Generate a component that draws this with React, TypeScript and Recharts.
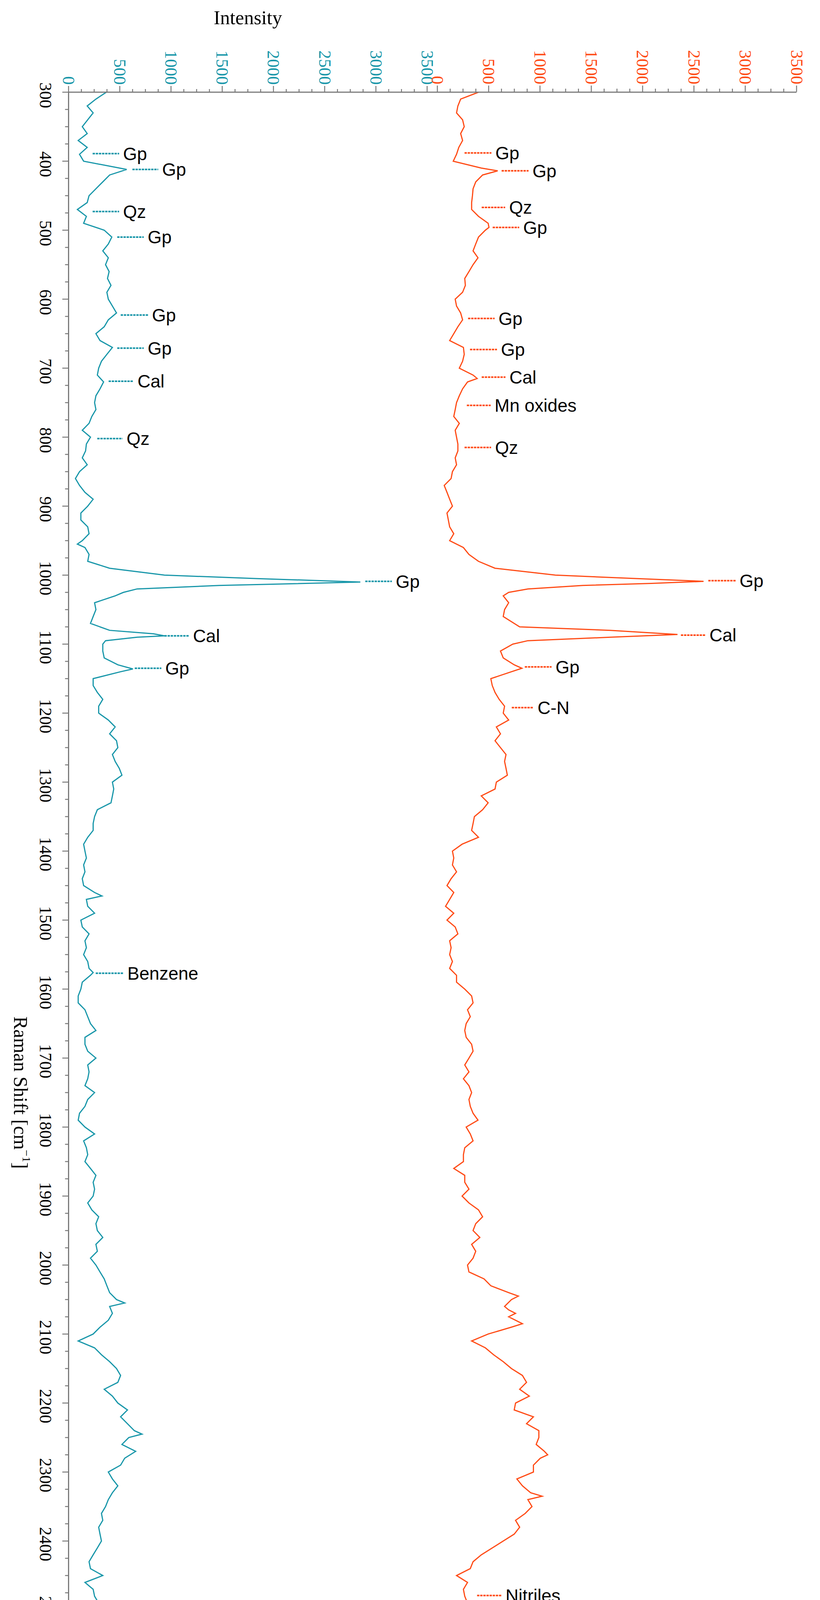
import { LineChart, Line, XAxis, YAxis, ReferenceLine, Legend } from "recharts";

// Raman spectra of IF16 (teal, left) and IF2 (orange, right), drawn rotated:
// Raman shift runs down the page, intensity runs across.

const TEAL = "#1796a9";
const ORANGE = "#ff4a14";
const AXIS = "#7a7a7a";
const SERIF = "'Liberation Serif', 'Times New Roman', serif";
const SANS = "'Liberation Sans', Arial, sans-serif";

const seriesNames = ["IF2", "IF16"];

const intensityTicks = [0, 500, 1000, 1500, 2000, 2500, 3000, 3500];
const shiftTicks = [
  300, 400, 500, 600, 700, 800, 900, 1000, 1100, 1200, 1300, 1400, 1500, 1600, 1700,
  1800, 1900, 2000, 2100, 2200, 2300, 2400, 2500, 2600, 2700, 2800, 2900, 3000, 3100, 3200,
];

// IF16 spectrum
const if16Shift = [
  300, 310, 320, 330, 340, 350, 360, 370, 380, 390,
  400, 412, 420, 430, 440, 450, 460, 470, 480, 490,
  500, 510, 520, 530, 540, 550, 560, 570, 580, 590,
  600, 610, 620, 630, 640, 650, 660, 670, 680, 690,
  700, 710, 720, 730, 740, 750, 760, 770, 780, 790,
  800, 810, 820, 830, 840, 850, 860, 870, 880, 890,
  900, 910, 920, 930, 940, 950, 955, 960, 970, 980,
  990, 1000, 1005, 1010, 1015, 1020, 1025, 1030, 1040, 1050,
  1060, 1070, 1080, 1085, 1088, 1090, 1095, 1100, 1110, 1120,
  1130, 1136, 1140, 1150, 1160, 1170, 1180, 1190, 1200, 1210,
  1220, 1230, 1240, 1250, 1260, 1270, 1280, 1290, 1300, 1310,
  1320, 1330, 1340, 1350, 1360, 1370, 1380, 1390, 1400, 1410,
  1420, 1430, 1440, 1450, 1460, 1465, 1470, 1480, 1490, 1500,
  1510, 1520, 1530, 1540, 1550, 1560, 1570, 1576, 1580, 1590,
  1600, 1610, 1620, 1630, 1640, 1650, 1660, 1670, 1680, 1690,
  1700, 1710, 1720, 1730, 1740, 1750, 1760, 1770, 1780, 1790,
  1800, 1810, 1820, 1830, 1840, 1850, 1860, 1870, 1880, 1890,
  1900, 1910, 1920, 1930, 1940, 1950, 1960, 1970, 1980, 1990,
  2000, 2010, 2020, 2030, 2040, 2050, 2055, 2060, 2070, 2080,
  2090, 2100, 2110, 2120, 2130, 2140, 2150, 2160, 2170, 2180,
  2190, 2200, 2210, 2220, 2230, 2240, 2245, 2250, 2260, 2270,
  2280, 2290, 2300, 2310, 2320, 2330, 2340, 2350, 2360, 2370,
  2380, 2390, 2400, 2410, 2420, 2430, 2440, 2450, 2460, 2470,
  2480, 2490, 2500, 2510, 2520, 2525, 2530, 2540, 2550, 2560,
  2570, 2575, 2580, 2590, 2600, 2610, 2620, 2630, 2640, 2645,
  2650, 2660, 2670, 2675, 2680, 2690, 2700, 2710, 2720, 2730,
  2735, 2740, 2750, 2760, 2770, 2775, 2780, 2790, 2800, 2810,
  2820, 2830, 2840, 2850, 2860, 2870, 2875, 2880, 2890, 2895,
  2900, 2910, 2920, 2925, 2930, 2935, 2940, 2950, 2960, 2970,
  2980, 2990, 3000, 3010, 3020, 3025, 3030, 3035, 3040, 3050,
  3060, 3070, 3075, 3080, 3090, 3100, 3110, 3115, 3120, 3130,
  3140, 3145, 3150, 3160, 3165, 3170, 3180, 3190, 3195, 3200,
];
const if16Intensity = [
  369, 267, 182, 240, 187, 134, 182, 94, 182, 107,
  147, 567, 401, 334, 267, 200, 182, 86, 174, 147,
  348, 422, 388, 334, 388, 361, 396, 380, 414, 374,
  388, 428, 468, 388, 348, 267, 307, 428, 374, 321,
  294, 281, 342, 307, 267, 254, 267, 227, 200, 134,
  214, 174, 166, 134, 182, 107, 67, 107, 160, 240,
  187, 120, 120, 187, 200, 134, 86, 160, 200, 187,
  401, 936, 1845, 2848, 1471, 669, 535, 455, 254, 267,
  240, 214, 401, 829, 936, 669, 361, 334, 334, 348,
  481, 628, 508, 240, 240, 281, 334, 294, 294, 388,
  455, 401, 468, 481, 428, 455, 495, 521, 428, 441,
  428, 414, 281, 254, 240, 240, 187, 147, 160, 174,
  147, 160, 134, 147, 254, 326, 174, 187, 254, 120,
  134, 200, 160, 174, 147, 187, 200, 240, 214, 134,
  120, 94, 94, 160, 187, 214, 267, 160, 160, 187,
  267, 187, 200, 187, 160, 254, 187, 160, 107, 94,
  160, 254, 147, 174, 187, 160, 214, 267, 240, 254,
  240, 187, 227, 294, 267, 281, 334, 267, 281, 214,
  267, 307, 348, 374, 401, 468, 548, 401, 428, 388,
  307, 240, 94, 254, 321, 401, 468, 508, 481, 348,
  428, 481, 575, 508, 575, 642, 717, 588, 521, 655,
  548, 508, 388, 428, 481, 428, 388, 361, 321, 334,
  294, 307, 321, 281, 240, 200, 214, 334, 160, 240,
  254, 294, 254, 254, 267, 361, 267, 187, 321, 414,
  227, 428, 187, 348, 267, 254, 214, 254, 348, 374,
  240, 214, 348, 487, 348, 254, 374, 254, 187, 267,
  361, 267, 147, 321, 254, 388, 321, 254, 174, 348,
  388, 294, 428, 401, 481, 348, 193, 487, 307, 214,
  334, 495, 562, 414, 401, 575, 455, 428, 361, 200,
  455, 227, 334, 294, 562, 615, 428, 281, 428, 374,
  642, 775, 904, 722, 348, 348, 455, 695, 508, 240,
  267, 455, 187, 321, 562, 508, 348, 53, 94, 107,
];

// IF2 spectrum
const if2Shift = [
  300, 310, 320, 330, 340, 350, 360, 370, 380, 390,
  400, 410, 414, 420, 430, 440, 450, 460, 470, 480,
  490, 496, 500, 510, 520, 530, 540, 550, 560, 570,
  580, 590, 600, 610, 620, 630, 640, 650, 660, 670,
  680, 690, 700, 710, 715, 720, 730, 740, 750, 760,
  770, 780, 790, 800, 810, 820, 830, 840, 850, 860,
  870, 880, 890, 900, 910, 920, 930, 940, 950, 960,
  970, 980, 990, 1000, 1005, 1009, 1012, 1015, 1020, 1025,
  1030, 1040, 1050, 1060, 1070, 1075, 1080, 1086, 1090, 1095,
  1100, 1110, 1120, 1130, 1135, 1140, 1150, 1160, 1170, 1180,
  1190, 1200, 1210, 1220, 1230, 1240, 1250, 1260, 1270, 1280,
  1290, 1300, 1310, 1320, 1330, 1340, 1350, 1360, 1370, 1380,
  1390, 1400, 1410, 1420, 1430, 1440, 1450, 1460, 1470, 1480,
  1490, 1500, 1510, 1520, 1530, 1540, 1550, 1560, 1570, 1580,
  1590, 1600, 1610, 1620, 1630, 1640, 1650, 1660, 1670, 1680,
  1690, 1700, 1710, 1720, 1730, 1740, 1750, 1760, 1770, 1780,
  1790, 1800, 1810, 1820, 1830, 1840, 1850, 1860, 1870, 1880,
  1890, 1900, 1910, 1920, 1930, 1940, 1950, 1960, 1970, 1980,
  1990, 2000, 2010, 2020, 2030, 2040, 2045, 2050, 2060, 2065,
  2070, 2075, 2080, 2085, 2090, 2100, 2110, 2120, 2130, 2140,
  2150, 2160, 2170, 2180, 2190, 2200, 2210, 2220, 2230, 2240,
  2250, 2260, 2270, 2275, 2280, 2290, 2300, 2310, 2320, 2330,
  2335, 2340, 2350, 2360, 2370, 2380, 2390, 2400, 2410, 2420,
  2430, 2440, 2450, 2460, 2470, 2480, 2490, 2500, 2510, 2520,
  2530, 2540, 2550, 2560, 2570, 2580, 2590, 2600, 2610, 2620,
  2630, 2640, 2650, 2660, 2670, 2675, 2680, 2690, 2700, 2705,
  2710, 2720, 2730, 2740, 2750, 2760, 2770, 2780, 2790, 2800,
  2810, 2820, 2830, 2840, 2850, 2860, 2870, 2880, 2890, 2900,
  2910, 2915, 2920, 2930, 2940, 2945, 2950, 2960, 2970, 2980,
  2990, 3000, 3005, 3010, 3020, 3030, 3040, 3050, 3060, 3070,
  3080, 3090, 3100, 3110, 3120, 3130, 3135, 3140, 3150, 3160,
  3165, 3170, 3175, 3180, 3185, 3190, 3195, 3200,
];
const if2Intensity = [
  401, 227, 200, 187, 246, 262, 227, 246, 209, 187,
  155, 428, 588, 441, 374, 348, 342, 334, 334, 401,
  495, 503, 468, 401, 374, 348, 396, 348, 308, 267,
  273, 246, 174, 187, 227, 246, 200, 160, 120, 254,
  262, 246, 214, 348, 388, 294, 246, 214, 187, 174,
  160, 214, 174, 187, 200, 200, 174, 187, 147, 134,
  67, 94, 120, 147, 94, 107, 120, 160, 120, 254,
  308, 401, 562, 1150, 1952, 2594, 2086, 1417, 882, 695,
  642, 695, 655, 642, 749, 802, 1685, 2340, 1685, 882,
  735, 615, 642, 749, 824, 722, 521, 535, 562, 602,
  655, 642, 695, 575, 615, 562, 615, 669, 655, 669,
  682, 575, 562, 428, 495, 441, 361, 348, 334, 401,
  241, 147, 160, 147, 187, 134, 94, 160, 120, 80,
  160, 94, 174, 200, 120, 134, 120, 147, 120, 187,
  187, 267, 334, 348, 294, 321, 281, 267, 281, 334,
  348, 308, 267, 308, 254, 308, 334, 308, 321, 348,
  396, 281, 321, 348, 267, 254, 254, 160, 267, 267,
  308, 241, 308, 401, 441, 374, 348, 414, 334, 374,
  348, 294, 308, 455, 521, 695, 789, 722, 655, 695,
  762, 695, 762, 829, 722, 495, 334, 468, 548, 642,
  722, 829, 869, 802, 896, 762, 749, 936, 869, 989,
  989, 963, 1043, 1075, 1003, 936, 936, 775, 829, 909,
  1021, 882, 922, 856, 762, 802, 749, 642, 535, 428,
  348, 321, 187, 294, 254, 267, 294, 348, 334, 455,
  348, 428, 348, 401, 227, 321, 267, 428, 468, 401,
  321, 388, 374, 414, 540, 647, 520, 428, 562, 655,
  535, 455, 348, 414, 321, 508, 495, 615, 428, 348,
  562, 615, 508, 428, 562, 468, 481, 495, 267, 468,
  669, 762, 508, 374, 535, 615, 481, 455, 348, 481,
  669, 642, 775, 455, 428, 481, 722, 615, 588, 669,
  615, 348, 508, 695, 508, 695, 850, 481, 562, 802,
  1163, 802, 1123, 882, 936, 856, 936, 642,
];

// band assignments: label, shift, leader line from/to (intensity units of the panel)
const if16NoteLabel = ["Gp", "Gp", "Qz", "Gp", "Gp", "Gp", "Cal", "Qz", "Gp", "Cal", "Gp", "Benzene", "Soot"];
const if16NoteShift = [389, 412, 473, 510, 623, 671, 719, 802, 1009, 1088, 1135, 1577, 2736];
const if16NoteFrom = [235, 623, 235, 475, 509, 475, 391, 280, 2896, 936, 646, 265, 429];
const if16NoteTo = [494, 875, 494, 734, 776, 734, 635, 528, 3156, 1176, 906, 536, 654];

const if2NoteLabel = ["Gp", "Gp", "Qz", "Gp", "Gp", "Gp", "Cal", "Mn oxides", "Qz", "Gp", "Cal", "Gp", "C-N", "Nitriles"];
const if2NoteShift = [388, 414, 467, 496, 628, 673, 713, 754, 815, 1008, 1087, 1133, 1192, 2479];
const if2NoteFrom = [265, 626, 432, 539, 299, 318, 432, 287, 265, 2640, 2373, 852, 725, 387];
const if2NoteTo = [527, 889, 661, 798, 558, 581, 664, 520, 524, 2906, 2613, 1113, 938, 626];

// page geometry
const W = 2099;
const H = 5446;
const PLOT_LEFT = 175.5;
const PLOT_RIGHT = 2039;
const PLOT_TOP = 236;
const PLOT_BOTTOM = 5358;
const IF16_END_X = 1093.3; // where 3500 of the IF16 scale sits
const IF2_ZERO_X = 1119.5; // where 0 of the IF2 scale sits

const if16Px = (IF16_END_X - PLOT_LEFT) / 3500;
const if2Px = (PLOT_RIGHT - IF2_ZERO_X) / 3500;
const if16Domain = [0, (PLOT_RIGHT - PLOT_LEFT) / if16Px];
const if2Domain = [-(IF2_ZERO_X - PLOT_LEFT) / if2Px, 3500];

const withMinor = (major: number[], parts: number) => {
  const out: number[] = [];
  major.forEach((v, i) => {
    out.push(v);
    if (i < major.length - 1) {
      const step = (major[i + 1] - v) / parts;
      for (let k = 1; k < parts; k++) out.push(v + step * k);
    }
  });
  return out;
};
const intensityAllTicks = withMinor(intensityTicks, 4);
const shiftAllTicks = withMinor(shiftTicks, 4);

const table = (() => {
  const a = new Map(if16Shift.map((s, i) => [s, if16Intensity[i]]));
  const b = new Map(if2Shift.map((s, i) => [s, if2Intensity[i]]));
  const all = Array.from(new Set([...if16Shift, ...if2Shift])).sort((p, q) => p - q);
  return all.map((s) => ({
    shift: s,
    IF16: a.has(s) ? a.get(s) : null,
    IF2: b.has(s) ? b.get(s) : null,
  }));
})();

function IntensityTick(props: any) {
  const { x, y, payload, color } = props;
  const major = intensityTicks.includes(payload.value);
  const ty = y - 19;
  return (
    <g>
      <line x1={x} x2={x} y1={y} y2={y - (major ? 16 : 8)} stroke={AXIS} strokeWidth={2.5} />
      {major && (
        <text
          x={x}
          y={ty}
          transform={`rotate(90 ${x} ${ty})`}
          textAnchor="end"
          dominantBaseline="central"
          fill={color}
          fontSize={44}
          fontFamily={SERIF}
        >
          {payload.value}
        </text>
      )}
    </g>
  );
}

function ShiftTick(props: any) {
  const { x, y, payload } = props;
  const major = shiftTicks.includes(payload.value);
  const tx = x - 59;
  const ty = y + 8;
  return (
    <g>
      <line x1={x - (major ? 16 : 9)} x2={x} y1={y} y2={y} stroke={AXIS} strokeWidth={2.5} />
      {major && (
        <text
          x={tx}
          y={ty}
          transform={`rotate(90 ${tx} ${ty})`}
          textAnchor="middle"
          dominantBaseline="central"
          fill="#000"
          fontSize={44}
          fontFamily={SERIF}
        >
          {payload.value}
        </text>
      )}
    </g>
  );
}

function IntensityTitle() {
  return (
    <text x={(PLOT_LEFT + IF16_END_X) / 2} y={62} textAnchor="middle" fill="#000" fontSize={50} fontFamily={SERIF}>
      Intensity
    </text>
  );
}

function ShiftTitle() {
  const x = 53;
  const y = (PLOT_TOP + PLOT_BOTTOM) / 2;
  return (
    <text
      x={x}
      y={y}
      transform={`rotate(90 ${x} ${y})`}
      textAnchor="middle"
      dominantBaseline="central"
      fill="#000"
      fontSize={50}
      fontFamily={SERIF}
    >
      Raman Shift [cm
      <tspan dy={-16} fontSize={30}>−1</tspan>
      <tspan dy={16}>]</tspan>
    </text>
  );
}

function LegendBox(props: any) {
  const items = [...(props.payload || [])].sort(
    (p: any, q: any) => seriesNames.indexOf(p.value) - seriesNames.indexOf(q.value)
  );
  return (
    <div
      style={{
        width: 164,
        height: 221,
        boxSizing: "border-box",
        border: "3px solid #000",
        boxShadow: "-5px 5px 0 #000",
        background: "#fff",
      }}
    >
      <svg width={158} height={215} style={{ display: "block" }}>
        {items.map((it: any, i: number) => {
          const cx = 117 - i * 69;
          return (
            <g key={it.value}>
              <line x1={cx} x2={cx} y1={18} y2={77} stroke={it.color} strokeWidth={3} />
              <text
                x={cx}
                y={98}
                transform={`rotate(90 ${cx} 98)`}
                textAnchor="start"
                dominantBaseline="central"
                fill="#000"
                fontSize={44}
                fontFamily={SERIF}
              >
                {it.value}
              </text>
            </g>
          );
        })}
      </svg>
    </div>
  );
}

const noteLabel = (value: string) => ({
  value,
  position: "right" as const,
  offset: 10,
  fill: "#000",
  fontSize: 46,
  fontFamily: SANS,
});

// both intensity axes sit on the top edge; 1px heights keep them (almost) on the same line
const AXIS_H = 1;

export default function App() {
  return (
    <div style={{ position: "absolute", left: 0, top: 0, width: W, height: H, background: "#fff" }}>
      <LineChart
        width={W}
        height={H}
        data={table}
        layout="vertical"
        margin={{
          top: PLOT_TOP - 2 * AXIS_H,
          left: PLOT_LEFT - 140,
          right: W - PLOT_RIGHT,
          bottom: H - PLOT_BOTTOM,
        }}
      >
        <XAxis
          xAxisId="if16"
          type="number"
          orientation="top"
          domain={if16Domain}
          allowDataOverflow
          ticks={intensityAllTicks}
          interval={0}
          height={AXIS_H}
          tickSize={0}
          tickMargin={0}
          tickLine={false}
          axisLine={{ stroke: AXIS, strokeWidth: 3 }}
          tick={(p: any) => <IntensityTick {...p} color={TEAL} />}
          label={<IntensityTitle />}
        />
        <XAxis
          xAxisId="if2"
          type="number"
          orientation="top"
          domain={if2Domain}
          allowDataOverflow
          ticks={intensityAllTicks}
          interval={0}
          height={AXIS_H}
          tickSize={0}
          tickMargin={0}
          tickLine={false}
          axisLine={false}
          tick={(p: any) => <IntensityTick {...p} color={ORANGE} />}
        />
        <YAxis
          yAxisId="shift"
          type="number"
          dataKey="shift"
          domain={[300, 3200]}
          allowDataOverflow
          ticks={shiftAllTicks}
          interval={0}
          width={140}
          tickSize={0}
          tickMargin={0}
          tickLine={false}
          axisLine={{ stroke: AXIS, strokeWidth: 3 }}
          tick={(p: any) => <ShiftTick {...p} />}
          label={<ShiftTitle />}
        />
        <Legend
          layout="horizontal"
          verticalAlign="middle"
          align="center"
          wrapperStyle={{ left: 1887, top: 5118, width: 164, height: 221 }}
          content={(p: any) => <LegendBox {...p} />}
        />
        <Line
          xAxisId="if2"
          yAxisId="shift"
          dataKey="IF2"
          name="IF2"
          type="linear"
          stroke={ORANGE}
          strokeWidth={3}
          dot={false}
          connectNulls
          isAnimationActive={false}
        />
        <Line
          xAxisId="if16"
          yAxisId="shift"
          dataKey="IF16"
          name="IF16"
          type="linear"
          stroke={TEAL}
          strokeWidth={3}
          dot={false}
          connectNulls
          isAnimationActive={false}
        />
        {if16NoteLabel.map((label, i) => (
          <ReferenceLine
            key={`if16-${i}`}
            xAxisId="if16"
            yAxisId="shift"
            ifOverflow="visible"
            segment={[
              { x: if16NoteFrom[i], y: if16NoteShift[i] },
              { x: if16NoteTo[i], y: if16NoteShift[i] },
            ]}
            stroke={TEAL}
            strokeWidth={4}
            strokeDasharray="6 2"
            label={noteLabel(label)}
          />
        ))}
        {if2NoteLabel.map((label, i) => (
          <ReferenceLine
            key={`if2-${i}`}
            xAxisId="if2"
            yAxisId="shift"
            ifOverflow="visible"
            segment={[
              { x: if2NoteFrom[i], y: if2NoteShift[i] },
              { x: if2NoteTo[i], y: if2NoteShift[i] },
            ]}
            stroke={ORANGE}
            strokeWidth={4}
            strokeDasharray="6 2"
            label={noteLabel(label)}
          />
        ))}
      </LineChart>
    </div>
  );
}
